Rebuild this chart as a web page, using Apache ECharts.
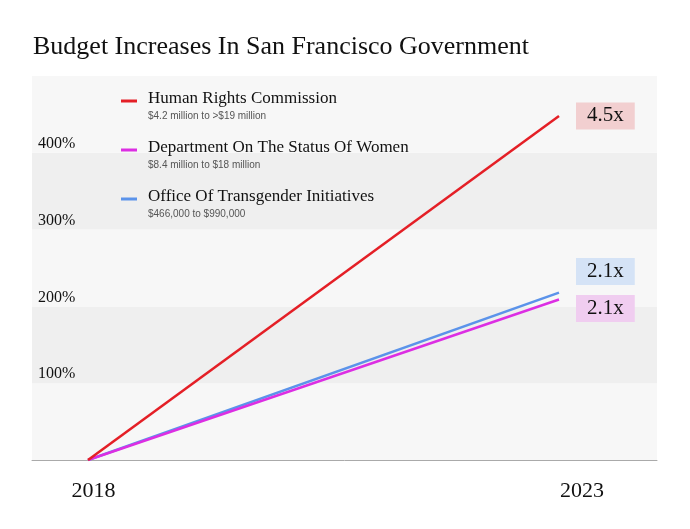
<!DOCTYPE html>
<html>
<head>
<meta charset="utf-8">
<script src="https://cdn.jsdelivr.net/npm/echarts@6/dist/echarts.min.js"></script>
<style>html,body{margin:0;padding:0;background:#fff}#c{width:690px;height:529px}</style>
</head>
<body>
<div id="c"></div>
<script>
var years = [2018, 2023];
var seriesNames = ['Office Of Transgender Initiatives', 'Department On The Status Of Women', 'Human Rights Commission'];
var transValues = [0, 218];
var womenValues = [0, 209];
var hrcValues = [0, 448];
var endLabels = ['2.1x', '2.1x', '4.5x'];
var legendNames = ['Human Rights Commission', 'Department On The Status Of Women', 'Office Of Transgender Initiatives'];
var legendSubs = ['$4.2 million to >$19 million', '$8.4 million to $18 million', '$466,000 to $990,000'];

var colors = { hrc: '#e41f26', women: '#dc2ee3', trans: '#5b93ea' };
var boxColors = { hrc: '#f2cfd0', women: '#f0cdf0', trans: '#d5e3f6' };
var serif = '"Liberation Serif", "DejaVu Serif", serif';
var sans = '"Liberation Sans", Arial, sans-serif';

var chart = echarts.init(document.getElementById('c'), null, { renderer: 'canvas' });

function mkSeries(name, vals, key, label, dy) {
  return {
    name: name, type: 'line', xAxisIndex: 0,
    data: years.map(function (y, i) { return [y, vals[i]]; }),
    symbol: 'none', lineStyle: { color: colors[key], width: 2.5 },
    itemStyle: { color: colors[key] },
    endLabel: {
      show: true, formatter: label, distance: 17, offset: [0, dy],
      backgroundColor: boxColors[key], padding: [4, 11, 2, 11],
      fontFamily: serif, fontSize: 21, color: '#111'
    },
    animation: false
  };
}

var legendGraphics = [];
var legendColors = [colors.hrc, colors.women, colors.trans];
var legendY = [101, 150, 199];
legendNames.forEach(function (n, i) {
  var y = legendY[i];
  legendGraphics.push({ type: 'rect', z: 100, shape: { x: 121, y: y - 1.5, width: 16, height: 3 }, style: { fill: legendColors[i] } });
  legendGraphics.push({ type: 'text', z: 100, style: { x: 148, y: y - 2, text: n, fontSize: 17, fontFamily: serif, fill: '#111', verticalAlign: 'middle', align: 'left' } });
  legendGraphics.push({ type: 'text', z: 100, style: { x: 148, y: y + 15, text: legendSubs[i], fontSize: 10, fontFamily: sans, fill: '#555', verticalAlign: 'middle', align: 'left' } });
});

chart.setOption({
  backgroundColor: '#fff',
  animation: false,
  title: {
    text: 'Budget Increases In San Francisco Government', left: 28, top: 29,
    textStyle: { fontFamily: serif, fontSize: 26, fontWeight: 'normal', color: '#111' }
  },
  grid: { left: 32, right: 33, top: 76, bottom: 69 },
  xAxis: [{
    type: 'value', min: 2017.4055, max: 2024.0403,
    axisLine: { show: true, lineStyle: { color: '#aaa', width: 1 } },
    axisTick: { show: false }, axisLabel: { show: false }, splitLine: { show: false }
  }, {
    type: 'value', min: 2017.3705, max: 2023.7677, position: 'bottom',
    axisLine: { show: false }, axisTick: { show: false }, splitLine: { show: false },
    axisLabel: {
      show: true, customValues: years, formatter: function (v) { return String(Math.round(v)); },
      margin: 20, fontFamily: serif, fontSize: 22, color: '#111'
    }
  }],
  yAxis: {
    type: 'value', min: 0, max: 500, interval: 100,
    axisLine: { show: false }, axisTick: { show: false },
    splitLine: { show: false },
    splitArea: { show: true, areaStyle: { color: ['#f7f7f7', '#efefef'] } },
    axisLabel: {
      inside: true, margin: 6, align: 'left', verticalAlign: 'bottom', padding: [0, 0, 1, 0],
      fontFamily: serif, fontSize: 16, color: '#111',
      formatter: function (v) { return (v === 0 || v === 500) ? '' : v + '%'; }
    }
  },
  series: [
    mkSeries(seriesNames[0], transValues, 'trans', endLabels[0], -21),
    mkSeries(seriesNames[1], womenValues, 'women', endLabels[1], 9),
    mkSeries(seriesNames[2], hrcValues, 'hrc', endLabels[2], 0)
  ],
  graphic: { elements: legendGraphics }
});
</script>
</body>
</html>
